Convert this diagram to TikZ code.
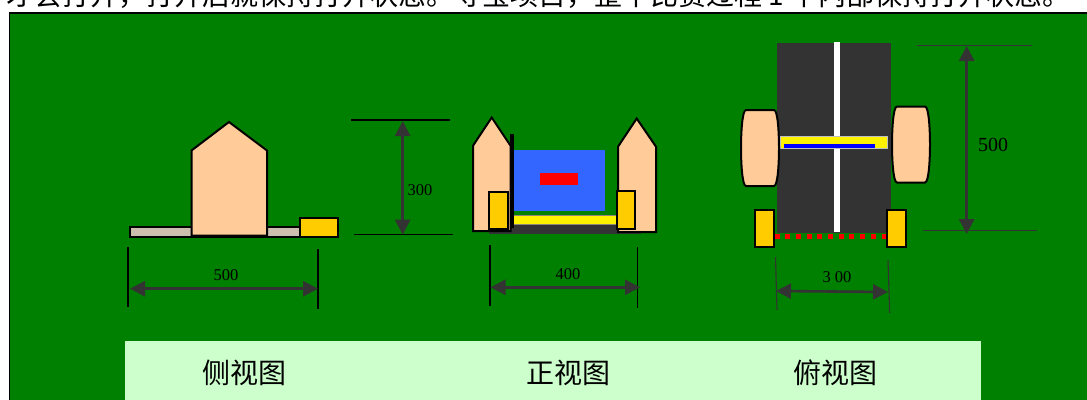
\documentclass[tikz,border=0pt]{standalone}
\usepackage{fontspec}
\usepackage{xcolor}
\setmainfont{Liberation Serif}
\newfontfamily\cjk{Noto Sans CJK SC}
\usetikzlibrary{arrows.meta}
\definecolor{fieldgreen}{rgb}{0.0, 0.5, 0.0}
\definecolor{skin}{rgb}{1.0, 0.8, 0.6}
\definecolor{amber}{rgb}{1.0, 0.8, 0.0}
\definecolor{base}{rgb}{0.8, 0.75, 0.69}
\definecolor{dark}{rgb}{0.2, 0.2, 0.2}
\definecolor{pale}{rgb}{0.8, 1.0, 0.8}
\definecolor{sky}{rgb}{0.2, 0.4, 1.0}
\tikzset{
    body/.style={draw=black, line width=2pt, fill=skin, line join=miter},
    latch/.style={draw=black, line width=2pt, fill=amber},
    dimline/.style={draw=dark, line width=2.6pt, {Triangle[length=15pt, width=15pt]}-{Triangle[length=15pt, width=15pt]}},
    extline/.style={draw=black, line width=1.1pt},
    dimtext/.style={font=\fontsize{16.5}{16.5}\selectfont, inner sep=0pt},
    viewname/.style={font=\cjk\fontsize{28}{28}\selectfont, inner sep=0pt}
}

\begin{document}
\begin{tikzpicture}[x=1pt, y=-1pt]
    \clip (0, 0) rectangle (1087, 399);
    \fill[white] (0, 0) rectangle (1087, 399);
    \node[viewname, anchor=base west] (topline) at (6, 5.5) {才会打开，打开后就保持打开状态。寻宝项目，整个比赛过程 1 中内部保持打开状态。};
    \draw[fill=fieldgreen, draw=black, line width=1.5pt] (9.5, 13) rectangle (1100, 420);
    \fill[pale] (125, 341) rectangle (981, 410);
    \node[viewname] (sideview) at (244, 373) {侧视图};
    \node[viewname] (frontview) at (568, 373) {正视图};
    \node[viewname] (topview) at (835, 373) {俯视图};

    \draw[fill=base, draw=black, line width=2pt] (130, 227) rectangle (301, 236.5);
    \draw[body] (191.5, 235.5) -- (191.5, 150.5) -- (229, 122) -- (267, 150.5) -- (267, 235.5) -- cycle;
    \draw[latch] (300, 218) rectangle (337.5, 236.5);

    \coordinate (s1) at (128, 247);
    \coordinate (s2) at (128, 307);
    \coordinate (s3) at (318, 249);
    \coordinate (s4) at (318, 309);
    \coordinate (s5) at (130, 288.7);
    \coordinate (s6) at (318, 288.7);
    \draw[extline] (s1) -- (s2);
    \draw[extline] (s3) -- (s4);
    \draw[dimline] (s5) -- (s6);
    \node[dimtext] (sidewidth) at (226, 275) {500};

    \coordinate (h1) at (351, 120);
    \coordinate (h2) at (450, 120);
    \coordinate (h3) at (354, 234.7);
    \coordinate (h4) at (453, 234.7);
    \coordinate (h5) at (402.7, 121);
    \coordinate (h6) at (402.7, 234.7);
    \draw[extline] (h1) -- (h2);
    \draw[extline] (h3) -- (h4);
    \draw[dimline] (h5) -- (h6);
    \node[dimtext] (sideheight) at (420, 190) {300};

    \fill[dark] (489, 224) rectangle (641, 234);
    \fill[sky] (514, 150) rectangle (605, 211);
    \fill[red] (540, 173) rectangle (578, 185);
    \draw[fill=yellow, draw=base!70!black, line width=0.8pt] (512, 215) rectangle (617, 224);
    \draw[body] (473, 231) -- (473, 145.7) -- (491.7, 117.5) -- (510.5, 145.7) -- (510.5, 231) -- cycle;
    \draw[body] (618, 232) -- (618, 146.7) -- (636.7, 118.5) -- (656, 146.7) -- (656, 232) -- cycle;
    \fill[black] (510, 134) rectangle (514, 228);
    \draw[latch] (488.5, 191.5) rectangle (507.5, 229);
    \draw[latch] (617, 191) rectangle (635, 228.5);

    \coordinate (f1) at (490, 245);
    \coordinate (f2) at (490, 306);
    \coordinate (f3) at (637.3, 247);
    \coordinate (f4) at (637.3, 308);
    \coordinate (f5) at (490.5, 287.3);
    \coordinate (f6) at (640, 287.3);
    \draw[extline] (f1) -- (f2);
    \draw[extline] (f3) -- (f4);
    \draw[dimline] (f5) -- (f6);
    \node[dimtext] (frontwidth) at (568, 274) {400};

    \fill[dark] (777, 43) rectangle (891, 232.7);
    \fill[white] (834, 42) rectangle (840, 232);
    \draw[fill=yellow, draw=black!25, line width=1pt] (780, 136.5) rectangle (887.5, 148.5);
    \fill[blue] (784, 143.7) rectangle (875, 148);
    \draw[red, line width=5pt, dash pattern=on 5pt off 5.7pt] (774.5, 236) -- (887, 236);
    \foreach \x/\y in {741/110, 892/106.5} {
        \begin{scope}[shift={(\x, \y)}]
            \draw[body] (5, 0) -- (33, 0) .. controls (37, 0) and (38, 25) .. (38, 38) .. controls (38, 51) and (37, 76) .. (33, 76) -- (5, 76) .. controls (1, 76) and (0, 51) .. (0, 38) .. controls (0, 25) and (1, 0) .. (5, 0) -- cycle;
        \end{scope}
    }
    \draw[latch] (755, 209.5) rectangle (774, 247);
    \draw[latch] (887, 209.5) rectangle (906, 247);

    \coordinate (t1) at (775.5, 257);
    \coordinate (t2) at (777, 310);
    \coordinate (t3) at (888, 260);
    \coordinate (t4) at (889.7, 313);
    \coordinate (t5) at (776, 291);
    \coordinate (t6) at (888, 292);
    \draw[extline, draw=dark] (t1) -- (t2);
    \draw[extline, draw=dark] (t3) -- (t4);
    \draw[dimline] (t5) -- (t6);
    \node[dimtext] (topwidth) at (837, 277) {3 00};

    \coordinate (l1) at (917, 45.5);
    \coordinate (l2) at (1032, 45.5);
    \coordinate (l3) at (923, 230.5);
    \coordinate (l4) at (1037, 230.5);
    \coordinate (l5) at (966.7, 46);
    \coordinate (l6) at (966.7, 234);
    \draw[extline, draw=dark] (l1) -- (l2);
    \draw[extline, draw=dark] (l3) -- (l4);
    \draw[dimline] (l5) -- (l6);
    \node[dimtext, font=\fontsize{20}{20}\selectfont] (toplength) at (993, 145) {500};
\end{tikzpicture}
\end{document}
